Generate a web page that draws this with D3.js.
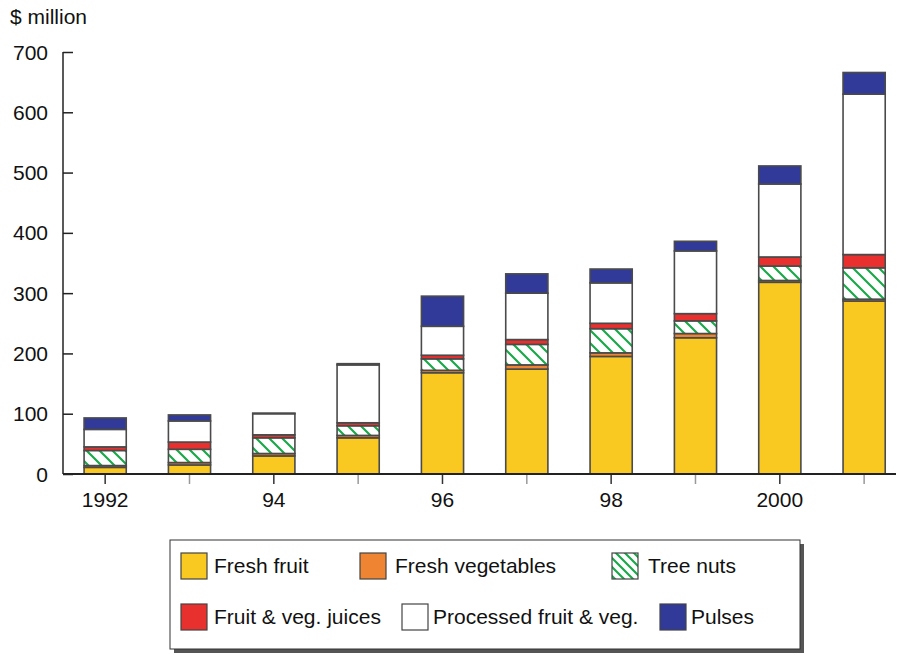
<!DOCTYPE html>
<html><head><meta charset="utf-8">
<script src="https://cdn.jsdelivr.net/npm/d3@7"></script>
<style>body{margin:0;background:#fff}svg{display:block;font-family:"Liberation Sans",Arial,sans-serif}</style>
</head><body><svg id="c" width="898" height="655"></svg>
<script>
const years = ["1992","1993","1994","1995","1996","1997","1998","1999","2000","2001"];
const tickLabels = ["1992","","94","","96","","98","","2000",""];
const freshFruit = [11,15,30,60,168,174,195,226,318,287];
const freshVeg = [3,4,4,4,4,7,6,7,3,3];
const treeNuts = [25,22,26,16,19,34,40,21,24,52];
const juices = [6,12,5,5,6,8,9,12,15,22];
const processed = [29,35,35,96,48,77,67,104,121,266];
const pulses = [19,10,1,2,50,32,23,16,30,36];
const seriesNames = ["Fresh fruit","Fresh vegetables","Tree nuts","Fruit & veg. juices","Processed fruit & veg.","Pulses"];
const yTicks = [0,100,200,300,400,500,600,700];

const series = [freshFruit,freshVeg,treeNuts,juices,processed,pulses];
const fills = ["#F9C922","#EF8533","url(#hatch)","#E8302F","#FFFFFF","#313A98"];
const FS = 21;

const svg = d3.select("#c");
const defs = svg.append("defs");
function hatch(id, s){
  const p = defs.append("pattern").attr("id",id).attr("patternUnits","userSpaceOnUse")
    .attr("width",s).attr("height",s);
  p.append("rect").attr("width",s).attr("height",s).attr("fill","#fff");
  p.append("path").attr("d",`M${-s/2},${s/2} L${s/2},${3*s/2} M0,0 L${s},${s} M${s/2},${-s/2} L${3*s/2},${s/2}`)
    .attr("stroke","#1BA84A").attr("stroke-width",2.2);
}
hatch("hatch",13);
hatch("hatchL",9);

const x0 = 63, yBase = 474, yTop = 52;
const step = 84.33;
const x = d3.scaleBand().domain(years).range([x0, x0 + step*10]).paddingInner(0.5).paddingOuter(0.25);
const y = d3.scaleLinear().domain([0,700]).range([yBase, yTop]);

const table = years.map((yr,i)=>{const o={year:yr}; seriesNames.forEach((n,k)=>o[n]=series[k][i]); return o;});
const stack = d3.stack().keys(seriesNames)(table);

stack.forEach((layer,k)=>{
  svg.append("g").selectAll("rect").data(layer).join("rect")
    .attr("x",d=>x(d.data.year)).attr("width",x.bandwidth())
    .attr("y",d=>y(d[1])).attr("height",d=>y(d[0])-y(d[1]))
    .attr("fill",fills[k]).attr("stroke","#4a4a4a").attr("stroke-width",1.6);
});

// axes
const yAxis = d3.axisRight(y).tickValues(yTicks).tickSize(10).tickFormat("");
const yg = svg.append("g").attr("transform",`translate(${x0},0)`).call(yAxis);
yg.select(".domain").remove();
yg.selectAll("line").attr("stroke","#222").attr("stroke-width",1.5);
svg.append("line").attr("x1",x0).attr("x2",x0).attr("y1",yTop).attr("y2",yBase).attr("stroke","#222").attr("stroke-width",1.5);
svg.append("g").selectAll("text").data(yTicks).join("text")
  .attr("x",48).attr("y",d=>y(d)+7.5).attr("text-anchor","end")
  .attr("font-size",FS).attr("fill","#111").text(d=>d);

const xAxis = d3.axisBottom(x).tickSize(10).tickFormat((d,i)=>tickLabels[i]);
const xg = svg.append("g").attr("transform",`translate(0,${yBase})`).call(xAxis);
xg.select(".domain").remove();
xg.selectAll("line").attr("stroke",(d,i)=>i%2?"#999":"#333").attr("stroke-width",1.5);
xg.selectAll("text").attr("font-size",FS).attr("fill","#111").attr("dy","0.95em")
  .attr("font-family","Liberation Sans, Arial, sans-serif");
svg.append("line").attr("x1",x0).attr("x2",896).attr("y1",yBase).attr("y2",yBase).attr("stroke","#222").attr("stroke-width",1.8);

svg.append("text").attr("x",10).attr("y",24).attr("font-size",FS).attr("fill","#111").text("$ million");

// legend
const lg = svg.append("g");
lg.append("rect").attr("x",174).attr("y",544).attr("width",630).attr("height",109).attr("fill","#555");
lg.append("rect").attr("x",170).attr("y",540).attr("width",630).attr("height",109).attr("fill","#fff").attr("stroke","#333").attr("stroke-width",1);
const legPos = [[181,553,214],[360,553,395],[612,553,648],[181,604,214],[402,604,433],[660,604,691]];
const legFills = ["#F9C922","#EF8533","url(#hatchL)","#E8302F","#FFFFFF","#313A98"];
seriesNames.forEach((n,k)=>{
  const [sx,sy,tx]=legPos[k];
  lg.append("rect").attr("x",sx).attr("y",sy).attr("width",26).attr("height",26)
    .attr("fill",legFills[k]).attr("stroke","#444").attr("stroke-width",1.2);
  lg.append("text").attr("x",tx).attr("y",sy+20).attr("font-size",FS).attr("fill","#111").text(n);
});
</script></body></html>
